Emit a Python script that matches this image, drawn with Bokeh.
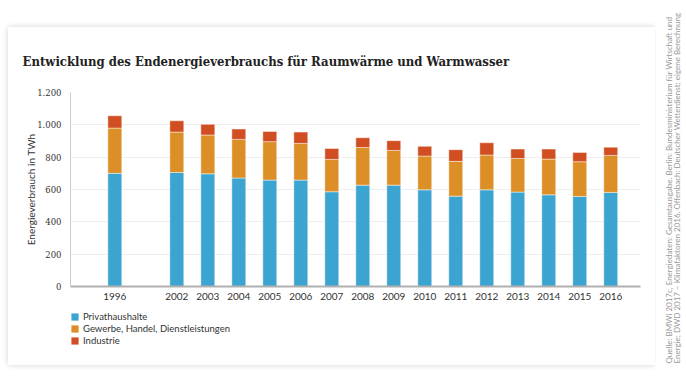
from bokeh.plotting import figure
from bokeh.models import (Range1d, FixedTicker, Legend, LegendItem,
                          Label, ColumnDataSource, Spacer)
from bokeh.layouts import row, column
from bokeh.embed import file_html
from bokeh.resources import INLINE

# ---- data ----
years = ["1996", "2002", "2003", "2004", "2005", "2006", "2007", "2008",
         "2009", "2010", "2011", "2012", "2013", "2014", "2015", "2016"]
privathaushalte = [700, 705, 697, 671, 658, 658, 586, 627, 627, 598, 559, 598, 584, 567, 557, 582]
gewerbe = [280, 250, 240, 239, 238, 227, 200, 233, 215, 209, 215, 215, 208, 221, 215, 229]
industrie = [76, 70, 66, 64, 63, 70, 68, 60, 60, 60, 72, 76, 58, 62, 57, 51]
series_names = ["Privathaushalte", "Gewerbe, Handel, Dienstleistungen", "Industrie"]
series_colors = ["#3ca4d0", "#dc8f26", "#d04e22"]
y_ticks = [0, 200, 400, 600, 800, 1000, 1200]
y_tick_labels = ["0", "200", "400", "600", "800", "1.000", "1.200"]
title_text = "Entwicklung des Endenergieverbrauchs für Raumwärme und Warmwasser"
y_label = "Energieverbrauch in TWh"
source_line1 = "Quelle: BMWi 2017c, Energiedaten: Gesamtausgabe. Berlin: Bundesministerium für Wirtschaft und"
source_line2 = "Energie; DWD 2017 – Klimafaktoren 2016. Offenbach: Deutscher Wetterdienst; eigene Berechnung"

# category slots: one empty slot between 1996 and 2002
slots = [years[0], ""] + years[1:]
xpos = [slots.index(y) for y in years]

src = ColumnDataSource(dict(x=xpos, years=years, p=privathaushalte, g=gewerbe, i=industrie))

# ---------------- main chart ----------------
p = figure(width=647, height=278, output_backend="svg", toolbar_location=None,
           x_range=Range1d(-1.43, len(slots) - 1 + 0.96),
           y_range=Range1d(0, 1200),
           min_border_left=62, min_border_right=15, min_border_top=65,
           min_border_bottom=19)
p.outline_line_color = None
p.background_fill_color = "white"
p.border_fill_color = "white"

renderers = p.vbar_stack(["p", "g", "i"], x="x", width=0.45, source=src,
                         fill_color=series_colors, line_color="white",
                         line_alpha=0.45, line_width=1)

p.title.text = title_text
p.title.text_font = "DejaVu Serif Condensed"
p.title.text_font_style = "bold"
p.title.text_font_size = "13px"
p.title.text_color = "#222222"
p.title.align = "left"
p.title.offset = -48
p.title.standoff = 47

p.yaxis.ticker = FixedTicker(ticks=y_ticks)
p.yaxis.major_label_overrides = {t: l for t, l in zip(y_ticks, y_tick_labels)}
p.yaxis.major_label_text_font = "DejaVu Serif"
p.yaxis.major_label_text_font_size = "8.5px"
p.yaxis.major_label_text_color = "#333333"
p.yaxis.major_tick_line_color = None
p.yaxis.minor_tick_line_color = None
p.yaxis.axis_line_color = "#cccccc"
p.yaxis.major_label_standoff = 3
p.yaxis.axis_label = y_label
p.yaxis.axis_label_text_font = "Lato"
p.yaxis.axis_label_text_font_style = "normal"
p.yaxis.axis_label_text_font_size = "10px"
p.yaxis.axis_label_text_color = "#333333"
p.yaxis.axis_label_standoff = -3

p.xaxis.ticker = FixedTicker(ticks=xpos)
p.xaxis.major_label_overrides = {x: y for x, y in zip(xpos, years)}
p.xaxis.major_label_text_font = "Lato"
p.xaxis.major_label_text_font_size = "10px"
p.xaxis.major_label_text_color = "#333333"
p.xaxis.major_tick_line_color = None
p.xaxis.minor_tick_line_color = None
p.xaxis.axis_line_color = "#b0b0b0"
p.xaxis.axis_line_width = 2
p.xaxis.major_label_standoff = 0

p.xgrid.grid_line_color = None
p.ygrid.grid_line_color = "#eeeeee"
p.ygrid.grid_line_width = 1

# ---------------- legend strip ----------------
# same stacked bars, kept entirely out of view, only to feed the legend swatches
lf = figure(width=647, height=60, output_backend="svg", toolbar_location=None,
            x_range=Range1d(-1000, -999), y_range=Range1d(5000, 5001), min_border=0)
lf.axis.visible = False
lf.grid.visible = False
lf.outline_line_color = None
swatches = lf.vbar_stack(["p", "g", "i"], x="x", width=0.45, source=src,
                         fill_color=series_colors, line_color=None)
legend = Legend(items=[LegendItem(label=n, renderers=[r]) for n, r in zip(series_names, swatches)],
                location=(0, 19), orientation="vertical")
legend.label_text_font = "Lato"
legend.label_text_font_size = "9.5px"
legend.label_text_color = "#333333"
legend.glyph_width = 9
legend.glyph_height = 9
legend.label_height = 12
legend.label_standoff = 4
legend.spacing = 0
legend.padding = 0
legend.margin = 0
legend.border_line_color = None
legend.background_fill_alpha = 0
lf.add_layout(legend, "center")

card = column(p, lf, styles={"box-shadow": "0px 0px 6px rgba(0,0,0,0.18)"})

# ---------------- side source text ----------------
side = figure(width=31, height=381, output_backend="svg", toolbar_location=None,
              x_range=Range1d(0, 1), y_range=Range1d(0, 1), min_border=0)
side.axis.visible = False
side.grid.visible = False
side.outline_line_color = None
for txt, xx in [(source_line1, 13), (source_line2, 21)]:
    side.add_layout(Label(x=xx, y=18, x_units="screen", y_units="screen", text=txt,
                          angle=90, angle_units="deg", text_font="Lato",
                          text_font_size="8px", text_color="#999999",
                          text_align="left", text_baseline="middle"))

layout = row(Spacer(width=8, height=381), column(Spacer(width=647, height=27), card), side)

open("out.html", "w").write(file_html(layout, INLINE))
